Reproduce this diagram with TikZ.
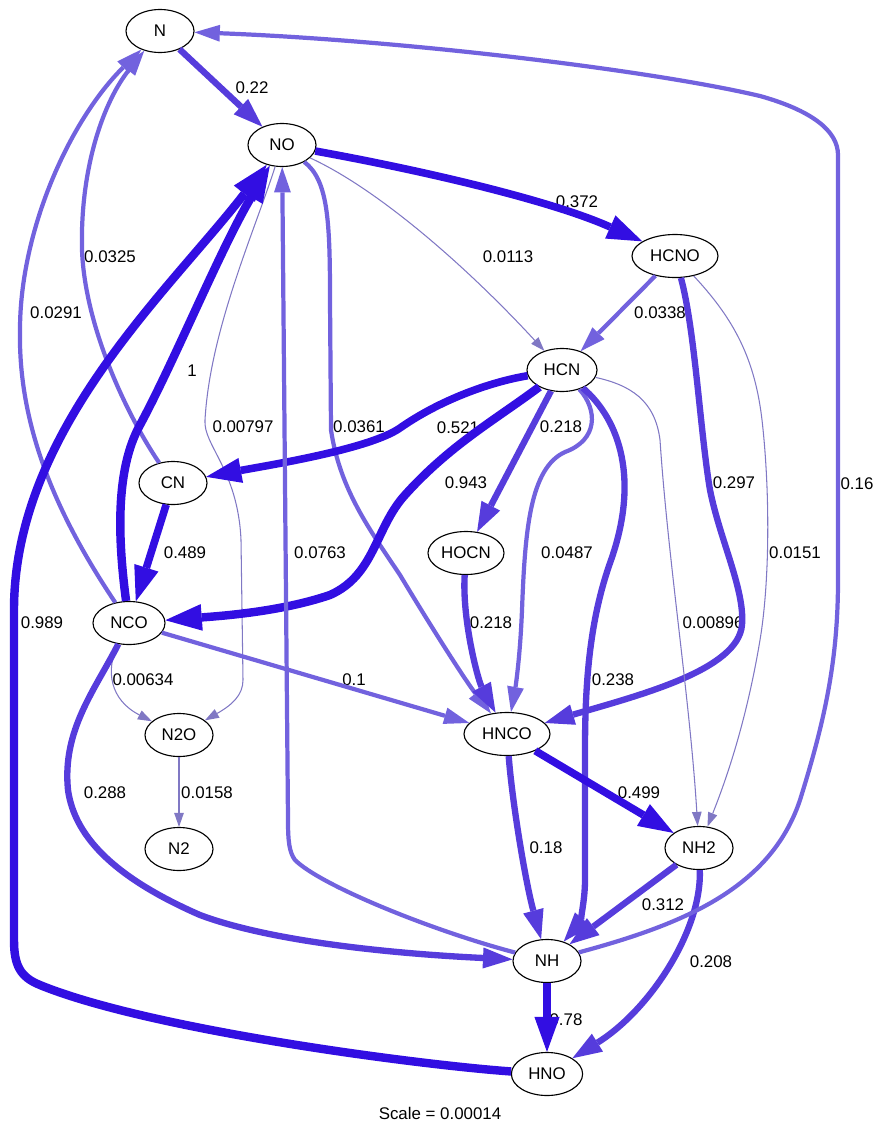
\documentclass[tikz,border=0pt]{standalone}
\usepackage{fontspec}
\setmainfont{Liberation Sans}
\usetikzlibrary{arrows.meta,shapes.geometric}
\definecolor{fluxdark}{RGB}{50,14,226}
\definecolor{fluxmid}{RGB}{86,60,220}
\definecolor{fluxlight}{RGB}{114,98,222}
\definecolor{fluxthin}{RGB}{128,120,196}
\tikzset{
  spc/.style={ellipse, draw=black, line width=0.8pt, fill=white, minimum width=1.7cm, minimum height=1.075cm, inner sep=0pt, font=\fontsize{12}{14}\selectfont},
  wide/.style={minimum width=2.15cm},
  lbl/.style={inner sep=0pt, font=\fontsize{12}{14}\selectfont},
  fluxA/.style={draw=fluxdark, line width=6pt, -{Triangle[length=26pt,width=19pt,line width=0pt]}},
  fluxB/.style={draw=fluxdark, line width=5.4pt, -{Triangle[length=25pt,width=18pt,line width=0pt]}},
  fluxC/.style={draw=fluxmid, line width=4.5pt, -{Triangle[length=21pt,width=15pt,line width=0pt]}},
  fluxD/.style={draw=fluxlight, line width=3pt, -{Triangle[length=18pt,width=12pt,line width=0pt]}},
  fluxE/.style={draw=fluxthin, line width=0.75pt, -{Triangle[length=10pt,width=7pt,line width=0pt]}}
}
\begin{document}
\begin{tikzpicture}[x=0.025cm,y=-0.025cm]
\useasboundingbox (0,0) rectangle (877,1125);
\node[spc] (N) at (160,31) {N};
\node[spc] (NO) at (282,145) {NO};
\node[spc,wide] (HCNO) at (675,256) {HCNO};
\node[spc,minimum width=1.75cm] (HCN) at (562,370) {HCN};
\node[spc] (CN) at (173,483) {CN};
\node[spc,minimum width=1.9cm] (HOCN) at (466,553) {HOCN};
\node[spc,minimum width=1.8cm] (NCO) at (129,623) {NCO};
\node[spc,wide] (HNCO) at (507,734) {HNCO};
\node[spc] (N2O) at (179,735) {N2O};
\node[spc] (N2) at (179,849) {N2};
\node[spc] (NH2) at (699,848) {NH2};
\node[spc] (NH) at (547,961) {NH};
\node[spc,minimum width=1.78cm] (HNO) at (547,1074) {HNO};
\node[lbl] (lNNO) at (252,88) {0.22};
\node[lbl] (lNOHCNO) at (577,202) {0.372};
\node[lbl] (lNOHCN) at (508,257) {0.0113};
\node[lbl] (lHCNOHCN) at (660,313) {0.0338};
\node[lbl] (lCNN) at (110,257) {0.0325};
\node[lbl] (lNCON) at (56,313) {0.0291};
\node[lbl] (lNCONO) at (192,371) {1};
\node[lbl] (lNON2O) at (243,427) {0.00797};
\node[lbl] (lNOHNCO) at (359,427) {0.0361};
\node[lbl] (lHCNCN) at (458,428) {0.521};
\node[lbl] (lHCNHOCN) at (561,427) {0.218};
\node[lbl] (lHCNOHNCO) at (734,483) {0.297};
\node[lbl] (lNHN) at (857,484) {0.16};
\node[lbl] (lHCNNCO) at (466,483) {0.943};
\node[lbl] (lCNNCO) at (185,553) {0.489};
\node[lbl] (lNHNO) at (320,553) {0.0763};
\node[lbl] (lHCNHNCO) at (567,553) {0.0487};
\node[lbl] (lHCNONH2) at (795,553) {0.0151};
\node[lbl] (lHNONO) at (42,623) {0.989};
\node[lbl] (lHOCNHNCO) at (491,623) {0.218};
\node[lbl] (lHCNNH2) at (713,623) {0.00896};
\node[lbl] (lNCON2O) at (143,680) {0.00634};
\node[lbl] (lNCOHNCO) at (354,680) {0.1};
\node[lbl] (lHCNNH) at (613,680) {0.238};
\node[lbl] (lNCONH) at (105,793) {0.288};
\node[lbl] (lN2ON2) at (207,793) {0.0158};
\node[lbl] (lHNCONH2) at (639,793) {0.499};
\node[lbl] (lHNCONH) at (546,848) {0.18};
\node[lbl] (lNH2NH) at (663,905) {0.312};
\node[lbl] (lNH2HNO) at (711,962) {0.208};
\node[lbl] (lNHHNO) at (566,1020) {0.78};
\node[lbl] (scale) at (440,1113) {Scale = 0.00014};
\draw[fluxC] (N) -- (NO);
\draw[fluxB] (NO) .. controls (420,170) and (550,200) .. (HCNO);
\draw[fluxE] (NO) .. controls (380,190) and (470,270) .. (HCN);
\draw[fluxE] (NO) .. controls (255,230) and (210,330) .. (205,420) .. controls (203,445) and (238,470) .. (241,540) -- (243,680) .. controls (243,695) and (232,705) .. (N2O);
\draw[fluxD] (NO) .. controls (328,180) and (330,220) .. (330,300) -- (331,430) .. controls (340,490) and (370,530) .. (400,575) .. controls (430,625) and (465,680) .. (HNCO);
\draw[fluxD] (HCNO) -- (HCN);
\draw[fluxC] (HCNO) .. controls (695,330) and (700,430) .. (710,490) .. controls (720,540) and (745,590) .. (742,625) .. controls (738,670) and (640,695) .. (HNCO);
\draw[fluxE] (HCNO) .. controls (735,320) and (755,360) .. (762,420) .. controls (770,490) and (770,580) .. (760,640) .. controls (745,730) and (722,790) .. (NH2);
\draw[fluxB] (HCN) .. controls (490,382) and (440,400) .. (400,428) .. controls (370,449) and (270,465) .. (CN);
\draw[fluxA] (HCN) .. controls (495,420) and (450,445) .. (405,495) .. controls (375,528) and (375,575) .. (330,595) .. controls (280,612) and (220,616) .. (NCO);
\draw[fluxC] (HCN) -- (HOCN);
\draw[fluxD] (HCN) .. controls (598,410) and (598,440) .. (565,452) .. controls (530,468) and (525,530) .. (522,610) .. controls (520,660) and (515,690) .. (HNCO);
\draw[fluxC] (HCN) .. controls (620,420) and (640,480) .. (610,563) .. controls (590,620) and (585,680) .. (585,750) -- (585,880) .. controls (585,905) and (578,925) .. (NH);
\draw[fluxE] (HCN) .. controls (630,385) and (655,400) .. (660,440) .. controls (668,560) and (690,700) .. (NH2);
\draw[fluxC] (HOCN) .. controls (462,620) and (478,680) .. (HNCO);
\draw[fluxB] (CN) -- (NCO);
\draw[fluxD] (CN) .. controls (130,420) and (85,330) .. (82,250) .. controls (80,165) and (105,100) .. (N);
\draw[fluxA] (NCO) .. controls (118,540) and (115,470) .. (140,425) .. controls (175,360) and (220,250) .. (NO);
\draw[fluxD] (NCO) .. controls (60,520) and (18,430) .. (20,330) .. controls (20,230) and (70,120) .. (N);
\draw[fluxD] (NCO) -- (HNCO);
\draw[fluxE] (NCO) .. controls (105,670) and (110,700) .. (N2O);
\draw[fluxC] (NCO) .. controls (95,690) and (62,730) .. (68,790) .. controls (75,840) and (120,880) .. (200,915) .. controls (280,945) and (420,955) .. (NH);
\draw[fluxE] (N2O) -- (N2);
\draw[fluxB] (HNCO) -- (NH2);
\draw[fluxC] (HNCO) .. controls (512,800) and (525,880) .. (NH);
\draw[fluxC] (NH2) -- (NH);
\draw[fluxC] (NH2) .. controls (702,930) and (650,1010) .. (HNO);
\draw[fluxB] (NH) -- (HNO);
\draw[fluxD] (NH) .. controls (430,930) and (320,885) .. (295,860) .. controls (289,852) and (288,840) .. (288,820) -- (NO);
\draw[fluxD] (NH) .. controls (680,925) and (770,890) .. (800,800) .. controls (825,720) and (838,660) .. (838,580) -- (838,155) .. controls (838,130) and (810,110) .. (760,96) .. controls (650,70) and (400,40) .. (N);
\draw[fluxA] (HNO) .. controls (420,1065) and (150,1030) .. (40,985) .. controls (20,977) and (14,965) .. (14,940) -- (14,610) .. controls (14,430) and (170,290) .. (NO);
\end{tikzpicture}
\end{document}
